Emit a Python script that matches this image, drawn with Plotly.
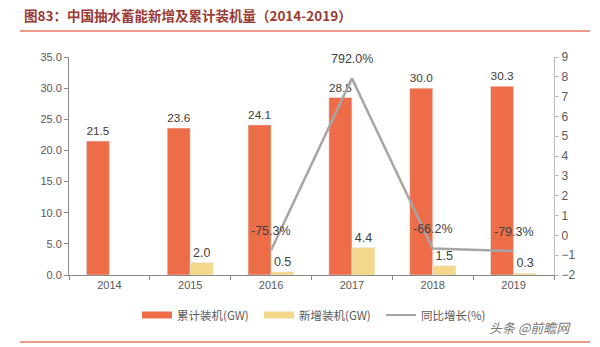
import plotly.graph_objects as go

years = ["2014", "2015", "2016", "2017", "2018", "2019"]
cumulative = [21.5, 23.6, 24.1, 28.5, 30.0, 30.3]
new_added = [None, 2.0, 0.5, 4.4, 1.5, 0.3]
yoy_years = ["2016", "2017", "2018", "2019"]
yoy = [-0.753, 7.92, -0.662, -0.793]
yoy_labels = ["-75.3%", "792.0%", "-66.2%", "-79.3%"]

ORANGE = "#EE6D49"
YELLOW = "#F3D88C"
GRAY = "#A6A6A6"
LABEL = "#404040"
TICK = "#595959"
RED = "#E37A62"

L, R, T, B = 69, 554, 57, 275
W = R - L
H = B - T
def px(x):
    return (x - L) / W
def py(y):
    return (B - y) / H

fig = go.Figure()
fig.add_trace(go.Bar(x=years, y=cumulative, name="累计装机(GW)", marker_color=ORANGE,
                     texttemplate="%{y:.1f}", textposition="outside", cliponaxis=False,
                     textfont=dict(size=12.5, color=LABEL, family="Liberation Sans"),
                     showlegend=False))
fig.add_trace(go.Bar(x=years, y=new_added, name="新增装机(GW)", marker_color=YELLOW,
                     texttemplate="%{y:.1f}", textposition="outside", cliponaxis=False,
                     textfont=dict(size=12.5, color=LABEL, family="Liberation Sans"),
                     showlegend=False))
fig.add_trace(go.Scatter(x=yoy_years, y=yoy, name="同比增长(%)", mode="lines",
                         line=dict(color=GRAY, width=2.5), yaxis="y2", showlegend=False))

# legend proxies (no visible marks)
for nm, col, wd in [("累计装机(GW)", ORANGE, 7), ("新增装机(GW)", YELLOW, 7), ("同比增长(%)", GRAY, 2)]:
    fig.add_trace(go.Scatter(x=[years[0]], y=[None], mode="lines", name=nm,
                             line=dict(color=col, width=wd)))

annotations = []
for xv, yv, t in zip(yoy_years, yoy, yoy_labels):
    annotations.append(dict(x=years.index(xv), y=yv, xref="x", yref="y2", text=t, showarrow=False,
                            yshift=19, font=dict(size=12.5, color=LABEL, family="Liberation Sans")))
annotations.append(dict(x=px(22), y=py(15), xref="paper", yref="paper", xanchor="left",
                        yanchor="middle", showarrow=False,
                        text="<b>图83：中国抽水蓄能新增及累计装机量（2014-2019）</b>",
                        font=dict(size=13.5, color="#9A3A33", family="Noto Sans CJK SC")))
annotations.append(dict(x=px(530), y=py(327), xref="paper", yref="paper", xanchor="center",
                        yanchor="middle", showarrow=False, text="<i>头条 @前瞻网</i>",
                        font=dict(size=13, color="#777777", family="Noto Sans CJK SC")))

shapes = [
    dict(type="line", xref="paper", yref="paper", x0=px(20), x1=px(590), y0=py(31), y1=py(31),
         line=dict(color=RED, width=1.5)),
    dict(type="line", xref="paper", yref="paper", x0=px(20), x1=px(590), y0=py(342), y1=py(342),
         line=dict(color=RED, width=1.5)),
]

fig.update_layout(
    width=600, height=347,
    margin=dict(l=L, r=600 - R, t=T, b=347 - B),
    paper_bgcolor="white", plot_bgcolor="white",
    barmode="group", bargap=0.43, bargroupgap=0,
    font=dict(family="Liberation Sans", size=11, color=TICK),
    xaxis=dict(type="category", categoryorder="array", categoryarray=years, range=[-0.5, 5.5],
               showline=True, linecolor="#888888", linewidth=1,
               ticks="outside", tickson="boundaries", ticklen=4, tickcolor="#888888",
               tickfont=dict(size=11, color=TICK), showgrid=False, fixedrange=True),
    yaxis=dict(range=[0, 35], dtick=5, tickformat=".1f", showline=True, linecolor="#888888",
               ticks="outside", ticklen=4, tickcolor="#888888", showgrid=False, zeroline=False,
               tickfont=dict(size=11, color=TICK)),
    yaxis2=dict(range=[-2, 9], dtick=1, overlaying="y", side="right", showline=True,
                linecolor="#BBBBBB", ticks="outside", ticklen=4, tickcolor="#BBBBBB",
                showgrid=False, zeroline=False, tickfont=dict(size=12, color=TICK)),
    legend=dict(orientation="h", x=px(137), y=py(315), xanchor="left", yanchor="middle",
                entrywidth=77, entrywidthmode="pixels", itemwidth=30,
                font=dict(size=11.5, color=TICK, family="Noto Sans CJK SC"),
                bgcolor="rgba(0,0,0,0)"),
    annotations=annotations,
    shapes=shapes,
)

fig.write_html("out.html")
